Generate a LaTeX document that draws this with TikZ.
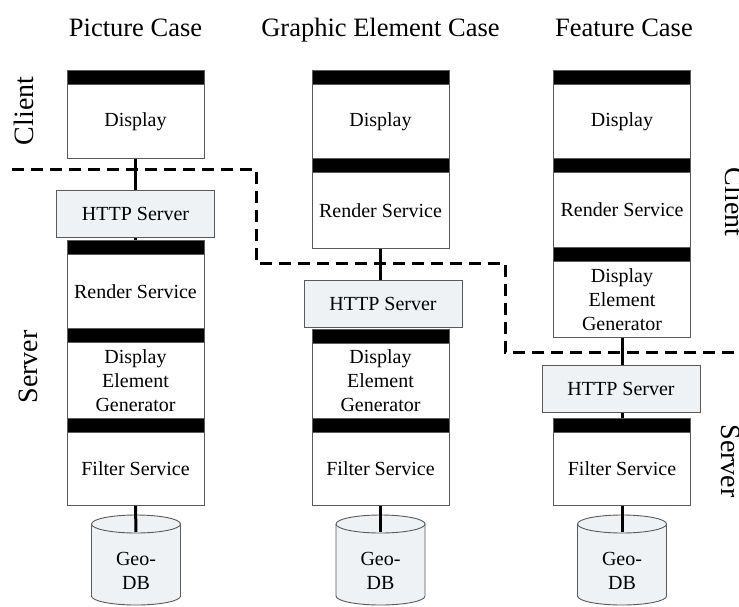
\documentclass[tikz,border=0pt]{standalone}
\usepackage{fontspec}
\setmainfont{Liberation Serif}
\definecolor{edgegray}{HTML}{5A5A5A}
\definecolor{paleblue}{HTML}{EEF2F5}
\newcommand\stackfont{\rmfamily\fontsize{20}{24}\selectfont}
\newcommand\headfont{\rmfamily\fontsize{26.5}{30}\selectfont}
\newcommand\tierfont{\rmfamily\fontsize{28}{32}\selectfont}
\tikzset{
  body/.style={draw=edgegray, line width=0.9pt, fill=white, minimum width=137pt,
    minimum height=#1, inner sep=0pt, align=center, font=\stackfont, anchor=north},
  bar/.style={draw=edgegray, line width=0.9pt, fill=black, minimum width=137pt,
    minimum height=#1, inner sep=0pt, anchor=north},
  bar/.default=14pt,
  http/.style={draw=edgegray, line width=0.9pt, fill=paleblue, minimum width=158pt,
    minimum height=47pt, inner sep=0pt, font=\stackfont, anchor=north},
  conn/.style={line width=3pt, black},
  border/.style={line width=3pt, black, dash pattern=on 12pt off 7pt},
  title/.style={font=\headfont, anchor=base},
  zone/.style={font=\tierfont, anchor=base},
  dbtext/.style={font=\stackfont, align=center, inner sep=0pt},
  dbshape/.style={draw=edgegray, line width=0.9pt, fill=paleblue}
}
\begin{document}
\begin{tikzpicture}[x=1pt, y=-1pt]
\useasboundingbox (0,0) rectangle (739,606);

% column titles
\node[title] (t1) at (135.5,36) {Picture Case};
\node[title] (t2) at (380.5,36) {Graphic Element Case};
\node[title] (t3) at (624,36) {Feature Case};

% client / server labels
\node[zone, rotate=90] (zc1) at (33,111) {Client};
\node[zone, rotate=90] (zs1) at (37,367) {Server};
\node[zone, rotate=-90] (zc2) at (725,202) {Client};
\node[zone, rotate=-90] (zs2) at (721,461) {Server};

% ---------- Picture case ----------
\node[bar] (a0) at (135.5,70) {};
\node[body=74pt] (a1) at (135.5,84) {Display};
\node[http] (ah) at (135.5,190) {HTTP Server};
\node[bar] (a2b) at (135.5,240) {};
\node[body=74pt] (a2) at (135.5,254) {Render Service};
\node[bar] (a3b) at (135.5,328) {};
\node[body=76pt] (a3) at (135.5,342) {Display\\Element\\Generator};
\node[bar] (a4b) at (135.5,418) {};
\node[body=73pt] (a4) at (135.5,432) {Filter Service};

% ---------- Graphic element case ----------
\node[bar] (b0) at (380.5,70) {};
\node[body=74pt] (b1) at (380.5,84) {Display};
\node[bar] (b2b) at (380.5,158) {};
\node[body=76pt] (b2) at (380.5,172) {Render Service};
\node[http] (bh) at (383,280) {HTTP Server};
\node[bar] (b3b) at (380.5,329) {};
\node[body=75pt] (b3) at (380.5,343) {Display\\Element\\Generator};
\node[bar] (b4b) at (380.5,418) {};
\node[body=73pt] (b4) at (380.5,432) {Filter Service};

% ---------- Feature case ----------
\node[bar] (c0) at (622,70) {};
\node[body=74pt] (c1) at (622,84) {Display};
\node[bar] (c2b) at (622,158) {};
\node[body=75pt] (c2) at (622,172) {Render Service};
\node[bar] (c3b) at (622,247) {};
\node[body=76pt] (c3) at (622,261) {Display\\Element\\Generator};
\node[http] (ch) at (621,365) {HTTP Server};
\node[bar] (c4b) at (622,418) {};
\node[body=73pt] (c4) at (622,432) {Filter Service};

% ---------- databases ----------
\foreach \cx/\nm in {136/a, 380.5/b, 622/c} {
  \fill[paleblue] (\cx-44.5,524) -- (\cx-44.5,596) arc (180:360:44.5pt and 9pt)
        -- (\cx+44.5,524) arc (0:180:44.5pt and 9pt) -- cycle;
  \draw[draw=edgegray, line width=0.9pt] (\cx-44.5,524) -- (\cx-44.5,596)
        arc (180:360:44.5pt and 9pt) -- (\cx+44.5,524);
  \draw[dbshape] (\cx,524) ellipse [x radius=44.5pt, y radius=9pt];
  \coordinate (\nm top) at (\cx,532);
  \node[dbtext] (\nm db) at (\cx,571) {Geo-\\DB};
}

% connectors
\draw[conn] (a1.south) -- (ah.north);
\draw[conn] (ah.south) -- (a2b.north);
\draw[conn] (a4.south) -- (atop);
\draw[conn] (b2.south) -- (bh.north -| b2.south);
\draw[conn] (b4.south) -- (btop);
\draw[conn] (c3.south) -- (ch.north -| c3.south);
\draw[conn] (ch.south -| c4b.north) -- (c4b.north);
\draw[conn] (c4.south) -- (ctop);

% client / server boundary
\coordinate (k0) at (12,169);
\coordinate (k1) at (256,169);
\coordinate (k2) at (256,263);
\coordinate (k3) at (505,263);
\coordinate (k4) at (505,352);
\coordinate (k5) at (740,352);
\draw[border] (k0) -- (k1) -- (k2) -- (k3) -- (k4) -- (k5);
\end{tikzpicture}
\end{document}
